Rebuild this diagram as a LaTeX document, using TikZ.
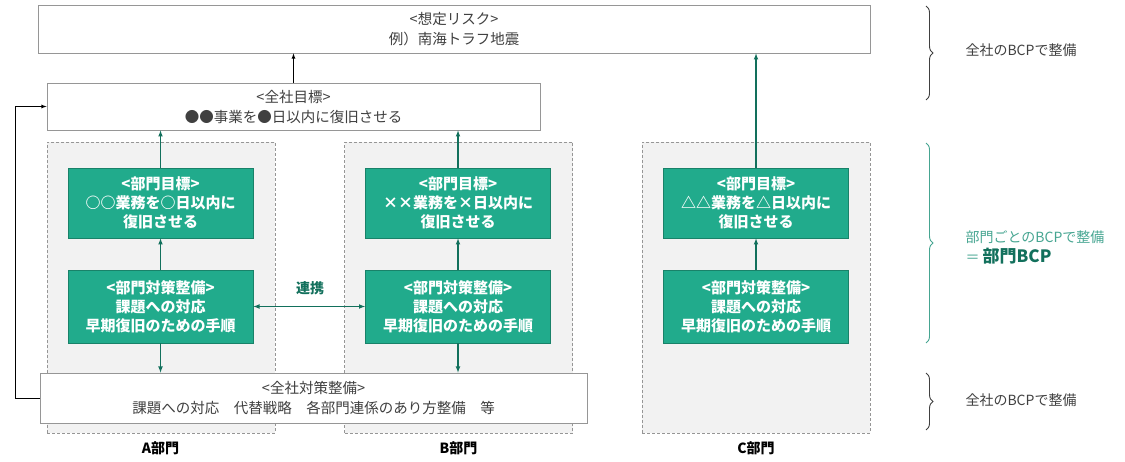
\documentclass[tikz,border=0pt]{standalone}
\usepackage{fontspec}
\setmainfont{Noto Sans CJK JP}
\usetikzlibrary{decorations.pathreplacing}

\definecolor{bcpgreen}{RGB}{33,171,140}
\definecolor{bcpedge}{RGB}{25,130,105}
\definecolor{bcpline}{RGB}{18,112,92}
\definecolor{bcptext}{RGB}{64,64,64}
\definecolor{deptfill}{RGB}{242,242,242}
\definecolor{deptedge}{RGB}{150,150,150}
\definecolor{bracegreen}{RGB}{70,165,145}

\tikzset{
    whitebox/.style={draw=deptedge, fill=white, text=bcptext, align=center,
        font=\fontsize{14.5}{20}\selectfont, inner sep=0pt, line width=0.8pt},
    greenbox/.style={draw=bcpedge, fill=bcpgreen, text=white, align=center,
        font=\bfseries\fontsize{15}{19}\selectfont, minimum width=185pt,
        inner sep=0pt, line width=0.8pt},
    deptbox/.style={draw=deptedge, fill=deptfill, dash pattern=on 3pt off 2pt,
        minimum width=228pt, minimum height=291pt, inner sep=0pt, line width=0.7pt},
    deptname/.style={font=\bfseries\fontsize{14}{16}\selectfont},
    greenarrow/.style={draw=bcpline, line width=1.1pt, -latex},
    blackarrow/.style={draw=black, line width=0.8pt, -latex},
    bracket/.style={decorate, decoration={brace, amplitude=7pt}, line width=0.9pt},
    sidenote/.style={anchor=west, align=left, font=\fontsize{14}{20}\selectfont}
}

\begin{document}
\begin{tikzpicture}[x=1pt, y=-1pt]
    \useasboundingbox (0,0) rectangle (1125,462);

    % department areas
    \node[deptbox] (deptA) at (161,287.5) {};
    \node[deptbox] (deptB) at (458.5,287.5) {};
    \node[deptbox] (deptC) at (756,287.5) {};
    \node[deptname] (nameA) at (160.5,448) {A部門};
    \node[deptname] (nameB) at (458.5,448) {B部門};
    \node[deptname] (nameC) at (756,448) {C部門};

    % company level
    \node[whitebox, minimum width=832pt, minimum height=48pt] (risk) at (454,29)
        {<想定リスク>\\例）南海トラフ地震};
    \node[whitebox, minimum width=493pt, minimum height=47pt] (allgoal) at (293.5,106.5)
        {<全社目標>\\●●事業を●日以内に復旧させる};
    \node[whitebox, minimum width=547pt, minimum height=50pt] (allmeasure) at (313.5,398)
        {<全社対策整備>\\課題への対応　代替戦略　各部門連係のあり方整備　等};

    % department level
    \node[greenbox, minimum height=70pt] (goalA) at (160.5,203)
        {<部門目標>\\○○業務を○日以内に\\復旧させる};
    \node[greenbox, minimum height=73pt] (measA) at (160.5,306.5)
        {<部門対策整備>\\課題への対応\\早期復旧のための手順};
    \node[greenbox, minimum height=70pt] (goalB) at (458,203)
        {<部門目標>\\××業務を×日以内に\\復旧させる};
    \node[greenbox, minimum height=73pt] (measB) at (458,306.5)
        {<部門対策整備>\\課題への対応\\早期復旧のための手順};
    \node[greenbox, minimum height=70pt] (goalC) at (756,203)
        {<部門目標>\\△△業務を△日以内に\\復旧させる};
    \node[greenbox, minimum height=73pt] (measC) at (756,306.5)
        {<部門対策整備>\\課題への対応\\早期復旧のための手順};

    % connectors
    \draw[blackarrow] (allgoal) -- (allgoal |- risk.south);
    \coordinate (loop) at (15,398);
    \draw[blackarrow] (allmeasure.west) -- (loop) |- (allgoal.west);
    \foreach \d in {A,B,C} {
        \draw[greenarrow] (meas\d) -- (goal\d);
    }
    \draw[greenarrow] (goalA) -- (goalA |- allgoal.south);
    \draw[greenarrow] (goalB) -- (goalB |- allgoal.south);
    \draw[greenarrow] (goalC) -- (goalC |- risk.south);
    \draw[greenarrow] (measA) -- (measA |- allmeasure.north);
    \draw[greenarrow] (measB) -- (measB |- allmeasure.north);
    \draw[greenarrow, latex-latex] (measA.east) -- (measB.west);
    \node[text=bcpline, font=\bfseries\fontsize{14}{16}\selectfont] (renkei) at (310,288) {連携};

    % braces
    \draw[bracket, draw=bcptext] (926,6) -- (926,100);
    \draw[bracket, draw=bracegreen] (926,143) -- (926,343);
    \draw[bracket, draw=bcptext] (926,373) -- (926,430);
    \node[sidenote, text=bcptext] (noteTop) at (962,50) {全社のBCPで整備};
    \node[sidenote, text=bracegreen] (noteMid) at (962,247)
        {部門ごとのBCPで整備\\＝ {\color{bcpline}\bfseries\fontsize{17}{20}\selectfont 部門BCP}};
    \node[sidenote, text=bcptext] (noteBot) at (962,400) {全社のBCPで整備};
\end{tikzpicture}
\end{document}
